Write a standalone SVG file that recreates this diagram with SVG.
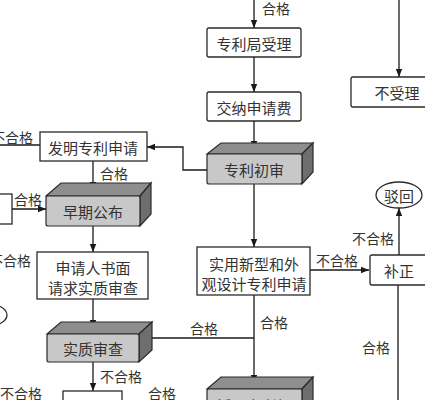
<svg xmlns="http://www.w3.org/2000/svg" width="425" height="400" viewBox="0 0 425 400">
<defs>
<marker id="ah" viewBox="0 0 10 10" refX="10" refY="5" markerWidth="8" markerHeight="8" markerUnits="userSpaceOnUse" orient="auto">
<path d="M0,1 L10,5 L0,9 Z" fill="#1a1a1a"/>
</marker>
<style>
.box{fill:#fff;stroke:#2a2a2a;stroke-width:1.3}
.front{fill:#c8c8c8;stroke:#2a2a2a;stroke-width:1.2}
.top{fill:#8e8e8e;stroke:#2a2a2a;stroke-width:1.2}
.side{fill:#6e6e6e;stroke:#2a2a2a;stroke-width:1.2}
.t{font-family:"Noto Sans CJK SC","Noto Sans",sans-serif;font-size:15px;fill:#333;text-anchor:middle;dominant-baseline:central}
.l{font-family:"Noto Sans CJK SC","Noto Sans",sans-serif;font-size:14px;fill:#333;text-anchor:middle;dominant-baseline:central}
.c{fill:none;stroke:#1a1a1a;stroke-width:1.3}
.a{marker-end:url(#ah)}
</style>
</defs>
<rect width="425" height="400" fill="#fff"/>

<g id="connectors">
<path class="c a" d="M254,0 V28"/>
<path class="c a" d="M254,57 V92"/>
<path class="c a" d="M254,121 V149"/>
<path class="c a" d="M254,184 V247"/>
<path class="c a" d="M207,170 H183 V147 H147"/>
<path class="c" d="M40,145 H0"/>
<path class="c a" d="M93,161 V190"/>
<path class="c a" d="M12,209 H46"/>
<path class="c a" d="M93,226 V252"/>
<path class="c a" d="M93,299 V328"/>
<path class="c a" d="M93,362 V391"/>
<path class="c" d="M152,338 H254"/>
<path class="c a" d="M254,295 V383"/>
<path class="c a" d="M310,270 H369"/>
<path class="c a" d="M399,255 V208"/>
<path class="c" d="M398,400 V285"/>
<path class="c a" d="M399,0 V77"/>
<text class="l" x="276" y="8">合格</text>
<text class="l" x="12" y="137">不合格</text>
<text class="l" x="114" y="173">合格</text>
<text class="l" x="28" y="199">合格</text>
<text class="l" x="10" y="260">不合格</text>
<text class="l" x="121" y="376">不合格</text>
<text class="l" x="21" y="393">不合格</text>
<text class="l" x="162" y="393">合格</text>
<text class="l" x="204" y="328">合格</text>
<text class="l" x="274" y="322">合格</text>
<text class="l" x="337" y="260">不合格</text>
<text class="l" x="373" y="238">不合格</text>
<text class="l" x="376" y="347">合格</text>
</g>

<g id="n-shouli">
<rect class="box" x="207" y="28" width="94" height="29" rx="2"/>
<text class="t" x="254" y="43">专利局受理</text>
</g>
<g id="n-jiaona">
<rect class="box" x="207" y="92" width="94" height="29" rx="2"/>
<text class="t" x="254" y="107">交纳申请费</text>
</g>
<g id="n-chushen">
<polygon class="top" points="207,154 221,143 313,143 302,154"/>
<polygon class="side" points="302,154 313,143 313,172 302,184"/>
<rect class="front" x="207" y="154" width="95" height="30" rx="2"/>
<text class="t" x="254" y="169">专利初审</text>
</g>
<g id="n-faming">
<rect class="box" x="40" y="132" width="107" height="29"/>
<text class="t" x="93" y="147">发明专利申请</text>
</g>
<g id="n-left">
<rect class="box" x="-10" y="194" width="22" height="30"/>
</g>
<g id="n-zaoqi">
<polygon class="top" points="46,196 61,183 151,183 140,196"/>
<polygon class="side" points="140,196 151,183 151,214 140,226"/>
<rect class="front" x="46" y="196" width="94" height="30" rx="2"/>
<text class="t" x="93" y="211">早期公布</text>
</g>
<g id="n-shenqingren">
<rect class="box" x="37" y="252" width="111" height="47"/>
<text class="t" x="93" y="267">申请人书面</text>
<text class="t" x="93" y="287">请求实质审查</text>
</g>
<g id="n-bohui-left">
<ellipse class="box" cx="-16" cy="315" rx="23" ry="12"/>
</g>
<g id="n-shizhi">
<polygon class="top" points="47,334 61,322 152,322 139,334"/>
<polygon class="side" points="139,334 152,322 152,350 139,362"/>
<rect class="front" x="47" y="334" width="92" height="28" rx="2"/>
<text class="t" x="93" y="348">实质审查</text>
</g>
<g id="n-bohui-bottom">
<rect class="box" x="63" y="391" width="59" height="30"/>
<text class="t" x="92" y="406">驳回</text>
</g>
<g id="n-shiyong">
<rect class="box" x="197" y="247" width="113" height="48"/>
<text class="t" x="254" y="263">实用新型和外</text>
<text class="t" x="254" y="283">观设计专利申请</text>
</g>
<g id="n-shouyu">
<polygon class="top" points="207,389 221,377 313,377 302,389"/>
<polygon class="side" points="302,389 313,377 313,410 302,420"/>
<rect class="front" x="207" y="389" width="95" height="30" rx="2"/>
<text class="t" x="254" y="405">授予专利权</text>
</g>
<g id="n-buzheng">
<rect class="box" x="370" y="255" width="60" height="30" rx="2"/>
<text class="t" x="399" y="270">补正</text>
</g>
<g id="n-bohui">
<ellipse class="box" cx="399" cy="195" rx="23" ry="13"/>
<text class="t" x="399" y="195">驳回</text>
</g>
<g id="n-bushouli">
<rect class="box" x="351" y="77" width="80" height="30" rx="2"/>
<text class="t" x="397" y="92">不受理</text>
</g>
</svg>
